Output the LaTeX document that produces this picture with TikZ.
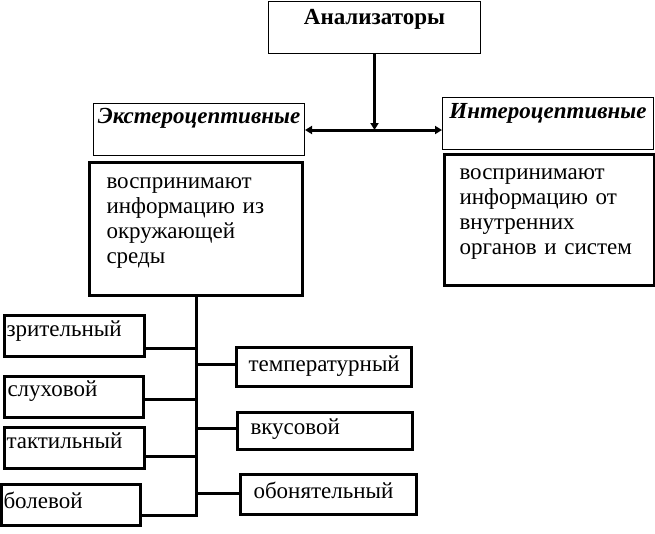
\documentclass[tikz,border=0pt]{standalone}
\usepackage{fontspec}
\setmainfont{Liberation Serif}
\usepackage{tikz}
\usetikzlibrary{
    calc,
    arrows.meta
}
\tikzset{
    every node/.style={font=\fontsize{23}{25}\selectfont},
    dims/.style n args={3}{text width=#1, text height=#2, text depth=#3},
    headbox/.style={draw, line width=1pt, anchor=north west,
        inner xsep=0pt, inner ysep=0pt, align=center},
    infobox/.style={draw, line width=3pt, anchor=north west,
        inner ysep=0pt, align=left},
    leafbox/.style={draw, line width=3pt, anchor=north west,
        inner ysep=0pt, align=left},
    link/.style={line width=3pt},
    tip/.style={-{Triangle[length=7pt,width=8pt]}}
}

\begin{document}
\begin{tikzpicture}[x=1pt,y=-1pt]
    \useasboundingbox (0,0) rectangle (655,533);
    % top level
    \node[headbox, dims={212pt}{23pt}{29pt}] (ana) at (268,1) {\bfseries Анализаторы};
    \node[headbox, dims={211pt}{20pt}{32pt}] (ext) at (93,103) {\bfseries\itshape Экстероцептивные};
    \node[headbox, dims={211pt}{21pt}{31pt}] (int) at (442,97) {\bfseries\itshape Интероцептивные};
    % descriptions
    \node[infobox, inner xsep=17pt, dims={179pt}{26pt}{107pt}] (extd) at (88,161)
        {воспринимают\\информацию из\\окружающей\\среды};
    \node[infobox, inner xsep=15pt, dims={180pt}{25pt}{106pt}] (intd) at (443,153)
        {воспринимают\\информацию от\\внутренних\\органов и систем};
    % kinds
    \node[leafbox, inner xsep=2pt, dims={136pt}{21pt}{20pt}] (vis) at (3,314) {зрительный};
    \node[leafbox, inner xsep=3pt, dims={133pt}{20pt}{21pt}] (aud) at (3,375) {слуховой};
    \node[leafbox, inner xsep=2pt, dims={136pt}{21pt}{20pt}] (tac) at (3,426) {тактильный};
    \node[leafbox, inner xsep=2pt, dims={135pt}{24pt}{17pt}] (pain) at (0,483) {болевой};
    \node[leafbox, inner xsep=12pt, dims={151pt}{24pt}{15pt}] (temp) at (235,346) {температурный};
    \node[leafbox, inner xsep=13pt, dims={149pt}{22pt}{15pt}] (taste) at (236,411) {вкусовой};
    \node[leafbox, inner xsep=13pt, dims={150pt}{24pt}{16pt}] (smell) at (239,473) {обонятельный};

    \coordinate (hub) at (ana.south |- 0,130);
    \draw[link, tip] (ana.south) -- (hub);
    \draw[link, tip] (hub) -- (ext.east |- hub);
    \draw[link, tip] (hub) -- (int.west |- hub);

    % trunk and branches
    \coordinate (jbot) at (extd.south |- 0,517);
    \coordinate (bVis) at (extd.south |- 0,348);
    \coordinate (bAud) at (extd.south |- 0,399);
    \coordinate (bTac) at (extd.south |- 0,456);
    \coordinate (bPain) at (extd.south |- 0,515);
    \coordinate (bTemp) at (extd.south |- 0,364);
    \coordinate (bTaste) at (extd.south |- 0,428);
    \coordinate (bSmell) at (extd.south |- 0,493);
    \draw[link] (extd.south) -- (jbot);
    \draw[link] (vis.east |- bVis) -- (bVis);
    \draw[link] (aud.east |- bAud) -- (bAud);
    \draw[link] (tac.east |- bTac) -- (bTac);
    \draw[link] (pain.east |- bPain) -- (bPain);
    \draw[link] (bTemp) -- (temp.west |- bTemp);
    \draw[link] (bTaste) -- (taste.west |- bTaste);
    \draw[link] (bSmell) -- (smell.west |- bSmell);
\end{tikzpicture}
\end{document}
